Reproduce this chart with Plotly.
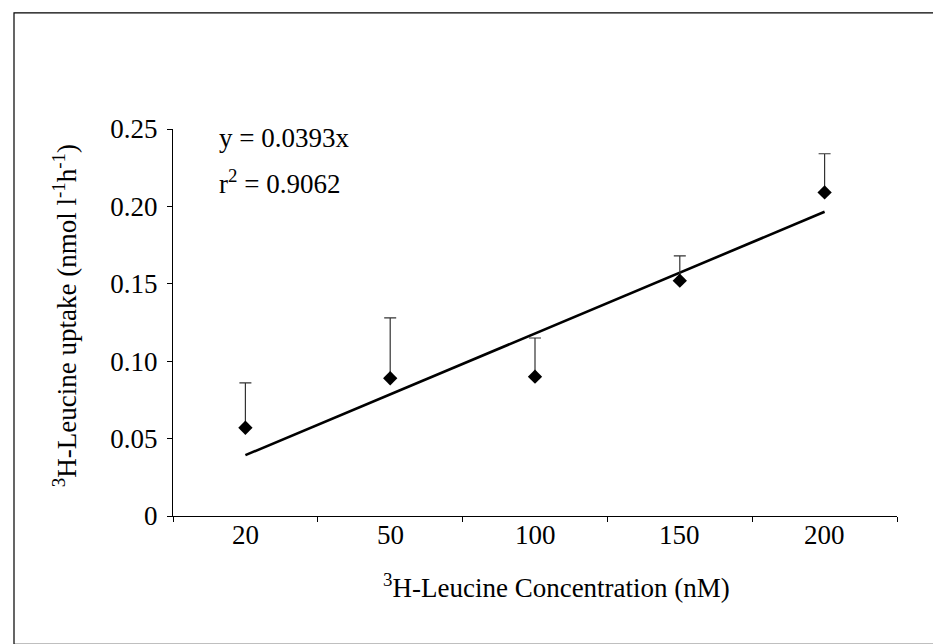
import plotly.graph_objects as go

# ---- data ----
concentrations = ["20", "50", "100", "150", "200"]
uptake = [0.057, 0.089, 0.090, 0.152, 0.209]
error_upper = [0.029, 0.039, 0.025, 0.016, 0.025]
slope = 0.0393
r_squared = 0.9062
y_tick_vals = [0, 0.05, 0.10, 0.15, 0.20, 0.25]
y_tick_text = ["0", "0.05", "0.10", "0.15", "0.20", "0.25"]

trend_x = concentrations
trend_y = [slope * (i + 1) for i in range(len(concentrations))]

W, H = 941, 644
L, R, T, B = 165, 889, 121, 507.7
pw, ph = R - L, B - T


def px(x):
    return (x - L) / pw


def py(y):
    return (B - y) / ph


FONT = "Liberation Serif, Times New Roman, serif"
FS = 27

fig = go.Figure()
fig.add_trace(go.Scatter(
    x=trend_x, y=trend_y, mode="lines",
    line=dict(color="black", width=2.6), showlegend=False, hoverinfo="skip"))
fig.add_trace(go.Scatter(
    x=concentrations, y=uptake, mode="markers",
    marker=dict(symbol="diamond", size=11, color="black"),
    error_y=dict(type="data", symmetric=False, array=error_upper,
                 arrayminus=[0] * len(uptake), color="#333333",
                 thickness=1.2, width=6),
    showlegend=False))

annotations = [
    dict(text="<sup>3</sup>H-Leucine Concentration (nM)",
         xref="paper", yref="paper", x=px(548), y=py(578),
         xanchor="center", yanchor="middle", showarrow=False,
         font=dict(family=FONT, size=FS)),
    dict(text="<sup>3</sup>H-Leucine uptake (nmol l<sup>-1</sup>h<sup>-1</sup>)",
         xref="paper", yref="paper", x=px(57), y=py(308),
         xanchor="center", yanchor="middle", textangle=-90,
         showarrow=False, font=dict(family=FONT, size=FS)),
    dict(text=f"y = {slope}x",
         xref="paper", yref="paper", x=px(209), y=py(130),
         xanchor="left", yanchor="middle", showarrow=False,
         font=dict(family=FONT, size=FS)),
    dict(text=f"r<sup>2</sup> = {r_squared}",
         xref="paper", yref="paper", x=px(209), y=py(174),
         xanchor="left", yanchor="middle", showarrow=False,
         font=dict(family=FONT, size=FS)),
]
for i, c in enumerate(concentrations):
    annotations.append(dict(
        text=c, xref="x", yref="paper", x=i, y=py(527),
        xanchor="center", yanchor="middle", showarrow=False,
        font=dict(family=FONT, size=FS)))

fig.update_layout(
    width=W, height=H,
    margin=dict(l=L, r=W - R, t=T, b=H - B, pad=0),
    paper_bgcolor="white", plot_bgcolor="white",
    font=dict(family=FONT, size=FS, color="black"),
    xaxis=dict(type="category", range=[-0.5, 4.5], tickson="boundaries",
               ticks="outside", ticklen=5, tickwidth=1, tickcolor="black",
               showticklabels=False,
               showline=True, linecolor="black", linewidth=1.2,
               showgrid=False, zeroline=False),
    yaxis=dict(range=[0, 0.25], tickvals=y_tick_vals, ticktext=y_tick_text,
               ticks="outside", ticklen=5, tickwidth=1, tickcolor="black",
               showline=True, linecolor="black", linewidth=1.2,
               showgrid=False, zeroline=False, ticklabelstandoff=4,
               tickfont=dict(family=FONT, size=FS)),
    shapes=[dict(type="rect", xref="paper", yref="paper",
                 x0=px(6), x1=px(932), y0=py(636), y1=py(5),
                 line=dict(color="black", width=1.2))],
    annotations=annotations,
)

fig.write_html("out.html")
